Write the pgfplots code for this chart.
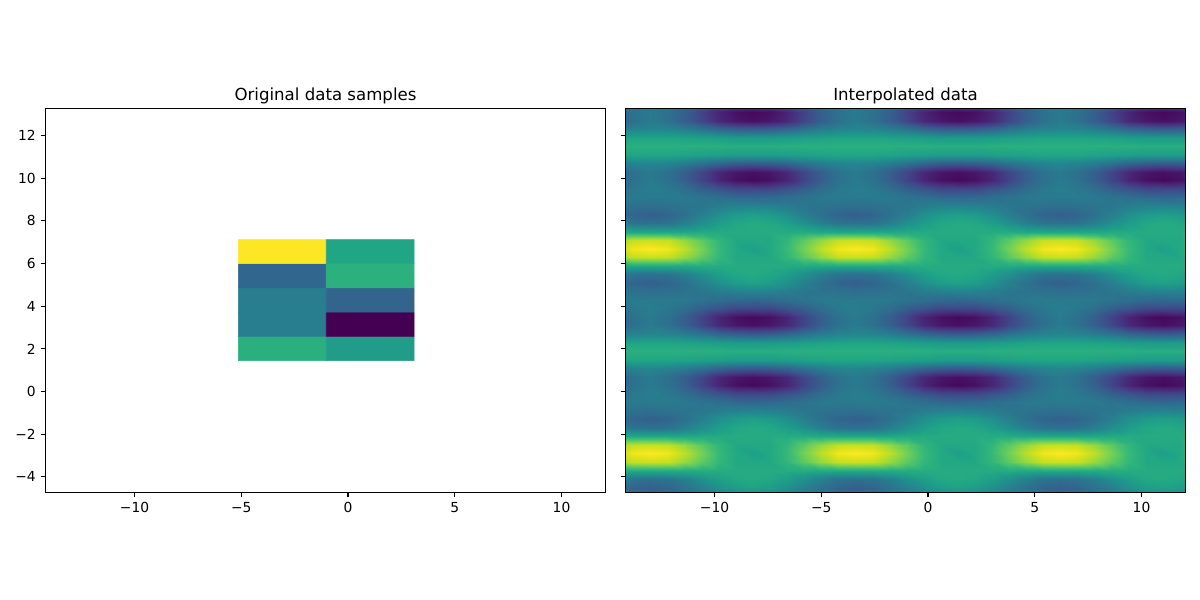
\documentclass[border=0pt]{standalone}
\usepackage{pgfplots}
\usepackage{fontspec}
\setmainfont{DejaVu Sans}
\pgfplotsset{compat=1.18}
\pgfplotsset{common/.style={
  scale only axis, width=5.6in, height=3.84in,
  xmin=-14.17, xmax=12.06, ymin=-4.73, ymax=13.27,
  xtick={-10,-5,0,5,10}, xticklabels={−10,−5,0,5,10},
  ytick={-4,-2,0,2,4,6,8,10,12},
  tick align=outside, tick pos=left,
  major tick length=3.5pt,
  tick style={black,line width=0.8pt},
  axis line style={line width=0.8pt},
  axis on top,
  colormap/viridis, point meta min=0, point meta max=100,
  tick label style={font=\fontsize{10}{12}\selectfont},
  title style={font=\fontsize{12}{14}\selectfont, yshift=-6.1pt},
}}
\begin{document}
\begin{tikzpicture}
\useasboundingbox (0,0) rectangle (12in,6in);
\begin{axis}[common, at={(0.455in,1.075in)}, anchor=south west,
  title={Original data samples},
  yticklabels={−4,−2,0,2,4,6,8,10,12}]
\addplot[matrix plot*, mesh/cols=2, point meta=explicit] table[x=x,y=y,meta=c] {
x y c
-3.08 2.02 63
1.04 2.02 55
-3.08 3.16 42
1.04 3.16 0
-3.08 4.29 42
1.04 4.29 32
-3.08 5.43 33
1.04 5.43 64
-3.08 6.56 100
1.04 6.56 59
};
\end{axis}
\begin{axis}[common, at={(6.255in,1.075in)}, anchor=south west,
  title={Interpolated data},
  yticklabels={}]
\addplot[surf, shader=interp, mesh/cols=35, point meta=\thisrowno{0}] table[row sep=crcr, header=false,
  x expr={-14.6+0.8*(\coordindex-35*floor((\coordindex+0.5)/35))},
  y expr={-4.9+0.4*floor((\coordindex+0.5)/35)}] {%
38\\37\\36\\37\\38\\39\\42\\44\\45\\44\\42\\39\\38\\37\\36\\37\\38\\39\\42\\44\\45\\44\\42\\39\\38\\37\\36\\37\\38\\39\\42\\44\\45\\44\\42\\%
37\\32\\30\\32\\37\\43\\50\\55\\57\\55\\50\\43\\37\\32\\30\\32\\37\\43\\50\\55\\57\\55\\50\\43\\37\\32\\30\\32\\37\\43\\50\\55\\57\\55\\50\\%
43\\38\\37\\38\\43\\50\\56\\60\\61\\60\\56\\50\\43\\38\\37\\38\\43\\50\\56\\60\\61\\60\\56\\50\\43\\38\\37\\38\\43\\50\\56\\60\\61\\60\\56\\%
60\\60\\60\\60\\60\\61\\61\\61\\61\\61\\61\\61\\60\\60\\60\\60\\60\\61\\61\\61\\61\\61\\61\\61\\60\\60\\60\\60\\60\\61\\61\\61\\61\\61\\61\\%
84\\91\\92\\91\\84\\75\\66\\60\\60\\60\\66\\75\\84\\91\\92\\91\\84\\75\\66\\60\\60\\60\\66\\75\\84\\91\\92\\91\\84\\75\\66\\60\\60\\60\\66\\%
90\\98\\100\\98\\90\\79\\67\\60\\56\\60\\67\\79\\90\\98\\100\\98\\90\\79\\67\\60\\56\\60\\67\\79\\90\\98\\100\\98\\90\\79\\67\\60\\56\\60\\67\\%
84\\91\\92\\91\\84\\75\\66\\60\\60\\60\\66\\75\\84\\91\\92\\91\\84\\75\\66\\60\\60\\60\\66\\75\\84\\91\\92\\91\\84\\75\\66\\60\\60\\60\\66\\%
60\\60\\60\\60\\60\\61\\61\\61\\61\\61\\61\\61\\60\\60\\60\\60\\60\\61\\61\\61\\61\\61\\61\\61\\60\\60\\60\\60\\60\\61\\61\\61\\61\\61\\61\\%
43\\38\\37\\38\\43\\50\\56\\60\\61\\60\\56\\50\\43\\38\\37\\38\\43\\50\\56\\60\\61\\60\\56\\50\\43\\38\\37\\38\\43\\50\\56\\60\\61\\60\\56\\%
37\\32\\30\\32\\37\\43\\50\\55\\57\\55\\50\\43\\37\\32\\30\\32\\37\\43\\50\\55\\57\\55\\50\\43\\37\\32\\30\\32\\37\\43\\50\\55\\57\\55\\50\\%
38\\37\\36\\37\\38\\39\\42\\44\\45\\44\\42\\39\\38\\37\\36\\37\\38\\39\\42\\44\\45\\44\\42\\39\\38\\37\\36\\37\\38\\39\\42\\44\\45\\44\\42\\%
40\\41\\41\\41\\40\\38\\36\\34\\33\\34\\36\\38\\40\\41\\41\\41\\40\\38\\36\\34\\33\\34\\36\\38\\40\\41\\41\\41\\40\\38\\36\\34\\33\\34\\36\\%
36\\40\\42\\40\\36\\30\\26\\22\\22\\22\\26\\30\\36\\40\\42\\40\\36\\30\\26\\22\\22\\22\\26\\30\\36\\40\\42\\40\\36\\30\\26\\22\\22\\22\\26\\%
30\\37\\41\\37\\30\\20\\10\\4\\2\\4\\10\\20\\30\\37\\41\\37\\30\\20\\10\\4\\2\\4\\10\\20\\30\\37\\41\\37\\30\\20\\10\\4\\2\\4\\10\\%
30\\37\\41\\37\\30\\21\\11\\6\\4\\6\\11\\21\\30\\37\\41\\37\\30\\21\\11\\6\\4\\6\\11\\21\\30\\37\\41\\37\\30\\21\\11\\6\\4\\6\\11\\%
42\\45\\46\\45\\42\\38\\33\\30\\29\\30\\33\\38\\42\\45\\46\\45\\42\\38\\33\\30\\29\\30\\33\\38\\42\\45\\46\\45\\42\\38\\33\\30\\29\\30\\33\\%
58\\59\\59\\59\\58\\57\\56\\55\\55\\55\\56\\57\\58\\59\\59\\59\\58\\57\\56\\55\\55\\55\\56\\57\\58\\59\\59\\59\\58\\57\\56\\55\\55\\55\\56\\%
63\\63\\63\\63\\63\\63\\63\\62\\62\\62\\63\\63\\63\\63\\63\\63\\63\\63\\63\\62\\62\\62\\63\\63\\63\\63\\63\\63\\63\\63\\63\\62\\62\\62\\63\\%
58\\59\\59\\59\\58\\57\\56\\55\\55\\55\\56\\57\\58\\59\\59\\59\\58\\57\\56\\55\\55\\55\\56\\57\\58\\59\\59\\59\\58\\57\\56\\55\\55\\55\\56\\%
42\\45\\46\\45\\42\\38\\33\\30\\29\\30\\33\\38\\42\\45\\46\\45\\42\\38\\33\\30\\29\\30\\33\\38\\42\\45\\46\\45\\42\\38\\33\\30\\29\\30\\33\\%
30\\37\\41\\37\\30\\21\\11\\6\\4\\6\\11\\21\\30\\37\\41\\37\\30\\21\\11\\6\\4\\6\\11\\21\\30\\37\\41\\37\\30\\21\\11\\6\\4\\6\\11\\%
30\\37\\41\\37\\30\\20\\10\\4\\2\\4\\10\\20\\30\\37\\41\\37\\30\\20\\10\\4\\2\\4\\10\\20\\30\\37\\41\\37\\30\\20\\10\\4\\2\\4\\10\\%
36\\40\\42\\40\\36\\30\\26\\22\\22\\22\\26\\30\\36\\40\\42\\40\\36\\30\\26\\22\\22\\22\\26\\30\\36\\40\\42\\40\\36\\30\\26\\22\\22\\22\\26\\%
40\\41\\41\\41\\40\\38\\36\\34\\33\\34\\36\\38\\40\\41\\41\\41\\40\\38\\36\\34\\33\\34\\36\\38\\40\\41\\41\\41\\40\\38\\36\\34\\33\\34\\36\\%
38\\37\\36\\37\\38\\39\\42\\44\\45\\44\\42\\39\\38\\37\\36\\37\\38\\39\\42\\44\\45\\44\\42\\39\\38\\37\\36\\37\\38\\39\\42\\44\\45\\44\\42\\%
37\\32\\30\\32\\37\\43\\50\\55\\57\\55\\50\\43\\37\\32\\30\\32\\37\\43\\50\\55\\57\\55\\50\\43\\37\\32\\30\\32\\37\\43\\50\\55\\57\\55\\50\\%
43\\38\\37\\38\\43\\50\\56\\60\\61\\60\\56\\50\\43\\38\\37\\38\\43\\50\\56\\60\\61\\60\\56\\50\\43\\38\\37\\38\\43\\50\\56\\60\\61\\60\\56\\%
60\\60\\60\\60\\60\\61\\61\\61\\61\\61\\61\\61\\60\\60\\60\\60\\60\\61\\61\\61\\61\\61\\61\\61\\60\\60\\60\\60\\60\\61\\61\\61\\61\\61\\61\\%
84\\91\\92\\91\\84\\75\\66\\60\\60\\60\\66\\75\\84\\91\\92\\91\\84\\75\\66\\60\\60\\60\\66\\75\\84\\91\\92\\91\\84\\75\\66\\60\\60\\60\\66\\%
90\\98\\100\\98\\90\\79\\67\\60\\56\\60\\67\\79\\90\\98\\100\\98\\90\\79\\67\\60\\56\\60\\67\\79\\90\\98\\100\\98\\90\\79\\67\\60\\56\\60\\67\\%
84\\91\\92\\91\\84\\75\\66\\60\\60\\60\\66\\75\\84\\91\\92\\91\\84\\75\\66\\60\\60\\60\\66\\75\\84\\91\\92\\91\\84\\75\\66\\60\\60\\60\\66\\%
60\\60\\60\\60\\60\\61\\61\\61\\61\\61\\61\\61\\60\\60\\60\\60\\60\\61\\61\\61\\61\\61\\61\\61\\60\\60\\60\\60\\60\\61\\61\\61\\61\\61\\61\\%
43\\38\\37\\38\\43\\50\\56\\60\\61\\60\\56\\50\\43\\38\\37\\38\\43\\50\\56\\60\\61\\60\\56\\50\\43\\38\\37\\38\\43\\50\\56\\60\\61\\60\\56\\%
37\\32\\30\\32\\37\\43\\50\\55\\57\\55\\50\\43\\37\\32\\30\\32\\37\\43\\50\\55\\57\\55\\50\\43\\37\\32\\30\\32\\37\\43\\50\\55\\57\\55\\50\\%
38\\37\\36\\37\\38\\39\\42\\44\\45\\44\\42\\39\\38\\37\\36\\37\\38\\39\\42\\44\\45\\44\\42\\39\\38\\37\\36\\37\\38\\39\\42\\44\\45\\44\\42\\%
40\\41\\41\\41\\40\\38\\36\\34\\33\\34\\36\\38\\40\\41\\41\\41\\40\\38\\36\\34\\33\\34\\36\\38\\40\\41\\41\\41\\40\\38\\36\\34\\33\\34\\36\\%
36\\40\\42\\40\\36\\30\\26\\22\\22\\22\\26\\30\\36\\40\\42\\40\\36\\30\\26\\22\\22\\22\\26\\30\\36\\40\\42\\40\\36\\30\\26\\22\\22\\22\\26\\%
30\\37\\41\\37\\30\\20\\10\\4\\2\\4\\10\\20\\30\\37\\41\\37\\30\\20\\10\\4\\2\\4\\10\\20\\30\\37\\41\\37\\30\\20\\10\\4\\2\\4\\10\\%
30\\37\\41\\37\\30\\21\\11\\6\\4\\6\\11\\21\\30\\37\\41\\37\\30\\21\\11\\6\\4\\6\\11\\21\\30\\37\\41\\37\\30\\21\\11\\6\\4\\6\\11\\%
42\\45\\46\\45\\42\\38\\33\\30\\29\\30\\33\\38\\42\\45\\46\\45\\42\\38\\33\\30\\29\\30\\33\\38\\42\\45\\46\\45\\42\\38\\33\\30\\29\\30\\33\\%
58\\59\\59\\59\\58\\57\\56\\55\\55\\55\\56\\57\\58\\59\\59\\59\\58\\57\\56\\55\\55\\55\\56\\57\\58\\59\\59\\59\\58\\57\\56\\55\\55\\55\\56\\%
63\\63\\63\\63\\63\\63\\63\\62\\62\\62\\63\\63\\63\\63\\63\\63\\63\\63\\63\\62\\62\\62\\63\\63\\63\\63\\63\\63\\63\\63\\63\\62\\62\\62\\63\\%
58\\59\\59\\59\\58\\57\\56\\55\\55\\55\\56\\57\\58\\59\\59\\59\\58\\57\\56\\55\\55\\55\\56\\57\\58\\59\\59\\59\\58\\57\\56\\55\\55\\55\\56\\%
42\\45\\46\\45\\42\\38\\33\\30\\29\\30\\33\\38\\42\\45\\46\\45\\42\\38\\33\\30\\29\\30\\33\\38\\42\\45\\46\\45\\42\\38\\33\\30\\29\\30\\33\\%
30\\37\\41\\37\\30\\21\\11\\6\\4\\6\\11\\21\\30\\37\\41\\37\\30\\21\\11\\6\\4\\6\\11\\21\\30\\37\\41\\37\\30\\21\\11\\6\\4\\6\\11\\%
30\\37\\41\\37\\30\\20\\10\\4\\2\\4\\10\\20\\30\\37\\41\\37\\30\\20\\10\\4\\2\\4\\10\\20\\30\\37\\41\\37\\30\\20\\10\\4\\2\\4\\10\\%
36\\40\\42\\40\\36\\30\\26\\22\\22\\22\\26\\30\\36\\40\\42\\40\\36\\30\\26\\22\\22\\22\\26\\30\\36\\40\\42\\40\\36\\30\\26\\22\\22\\22\\26\\%
};
\end{axis}
\end{tikzpicture}
\end{document}
